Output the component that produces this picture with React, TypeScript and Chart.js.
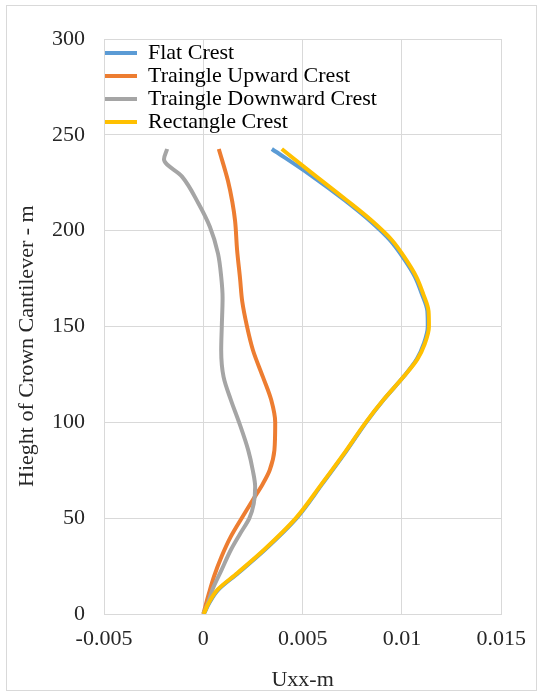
import React, { useEffect, useRef } from 'react';
import { Chart, registerables } from 'chart.js';

Chart.register(...registerables);

const seriesNames = ['Flat Crest', 'Traingle Upward Crest', 'Traingle Downward Crest', 'Rectangle Crest'];
const seriesColors = ['#5B9BD5', '#ED7D31', '#A5A5A5', '#FFC000'];

const flatHeights = [0, 5.7, 12.7, 21.4, 33.5, 50, 68, 85, 100, 112, 124, 133, 141, 150, 158, 167, 176, 185, 195, 205, 216, 229, 242.6];
const flatUxx = [0.00003, 0.0003, 0.00076, 0.00176, 0.0031, 0.0047, 0.006, 0.0072, 0.0082, 0.0091, 0.0101, 0.01075, 0.0111, 0.0113, 0.01128, 0.011, 0.01065, 0.01012, 0.0094, 0.0084, 0.0071, 0.0054, 0.00345];

const rectHeights = [0, 5.7, 12.7, 21.4, 33.5, 50, 68, 85, 100, 112, 124, 133, 141, 150, 158, 167, 176, 185, 195, 205, 216, 229, 242.6];
const rectUxx = [0.00002, 0.00027, 0.00072, 0.00172, 0.00306, 0.00466, 0.00597, 0.00717, 0.00818, 0.00909, 0.0101, 0.01078, 0.01115, 0.01136, 0.01134, 0.01107, 0.01072, 0.0102, 0.0095, 0.0085, 0.0072, 0.0056, 0.00395];

const upHeights = [0, 11, 19.6, 30, 40.5, 50, 59.5, 68, 75, 85.5, 100, 111.6, 123.7, 137.6, 150, 163, 175, 190, 205, 215, 226, 242.6];
const upUxx = [0, 0.00029, 0.00054, 0.00092, 0.00139, 0.00193, 0.00249, 0.003, 0.00334, 0.00358, 0.00362, 0.00342, 0.003, 0.0025, 0.0022, 0.00196, 0.00185, 0.0017, 0.0016, 0.00146, 0.00124, 0.00078];

const downHeights = [0, 5.7, 12.7, 23, 33.5, 42, 50, 57.6, 66.3, 75, 85.5, 100, 111.6, 123.7, 137.6, 150, 165, 176, 188, 202, 214.3, 228.2, 237.2, 242.6];
const downUxx = [0, 0.00024, 0.00046, 0.00092, 0.00139, 0.00186, 0.00232, 0.00254, 0.00261, 0.00249, 0.00226, 0.0018, 0.00139, 0.00102, 0.0009, 0.00093, 0.00097, 0.0009, 0.00074, 0.00033, -0.00025, -0.00107, -0.00198, -0.00182];

const xMin = -0.005;
const xMax = 0.015;
const xStep = 0.005;
const yMin = 0;
const yMax = 300;
const yStep = 50;

const xTitle = 'Uxx-m';
const yTitle = 'Hieght of Crown Cantilever - m';

const FONT_FAMILY = '"Liberation Serif", "Times New Roman", serif';
const TEXT_COLOR = '#262626';
const GRID_COLOR = '#d9d9d9';

const toPoints = (hs: number[], xs: number[]) => hs.map((h, i) => ({ x: xs[i], y: h }));

const yTitlePlugin = {
  id: 'yTitlePlugin',
  afterDraw(chart: any) {
    const { ctx, chartArea } = chart;
    ctx.save();
    ctx.font = `22px ${FONT_FAMILY}`;
    ctx.fillStyle = TEXT_COLOR;
    ctx.translate(33, chartArea.bottom - 127);
    ctx.rotate(-Math.PI / 2);
    ctx.textAlign = 'left';
    ctx.textBaseline = 'alphabetic';
    ctx.fillText(yTitle, 0, 0);
    ctx.restore();
  },
};

// keep the in-plot legend aligned with the top of the plot area
const legendPlacePlugin = {
  id: 'legendPlacePlugin',
  afterLayout(chart: any) {
    const lg = chart.legend;
    if (!lg) return;
    const h = lg.height;
    lg.top = chart.chartArea.top + 2;
    lg.bottom = lg.top + h;
  },
};

export default function App() {
  const canvasRef = useRef<HTMLCanvasElement | null>(null);

  useEffect(() => {
    if (!canvasRef.current) return;
    Chart.defaults.font.family = FONT_FAMILY;
    const seriesData = [
      toPoints(flatHeights, flatUxx),
      toPoints(upHeights, upUxx),
      toPoints(downHeights, downUxx),
      toPoints(rectHeights, rectUxx),
    ];
    const orders = [4, 3, 2, 1];
    const datasets = seriesNames.map((name, i) => ({
      label: name,
      data: seriesData[i],
      borderColor: seriesColors[i],
      backgroundColor: seriesColors[i],
      pointBorderColor: seriesColors[i],
      pointBackgroundColor: seriesColors[i],
      borderWidth: 4,
      pointBorderWidth: 4,
      pointRadius: 0,
      pointHoverRadius: 0,
      cubicInterpolationMode: 'monotone',
      fill: false,
      order: orders[i],
    }));

    const fmt = (v: any) => {
      const n = Math.round(Number(v) * 1e6) / 1e6;
      return String(n);
    };

    const chart = new Chart(canvasRef.current, {
      type: 'line',
      data: { datasets },
      plugins: [yTitlePlugin, legendPlacePlugin],
      options: {
        indexAxis: 'y',
        animation: false,
        responsive: true,
        maintainAspectRatio: false,
        layout: { padding: { top: 39, right: 29, bottom: 0, left: 0 } },
        plugins: {
          tooltip: { enabled: false },
          legend: {
            position: 'chartArea',
            align: 'start',
            labels: {
              usePointStyle: true,
              pointStyle: 'line',
              pointStyleWidth: 32,
              padding: 1,
              color: '#000',
              font: { size: 22, family: FONT_FAMILY },
              sort: (a: any, b: any) => a.datasetIndex - b.datasetIndex,
            },
          },
        },
        scales: {
          x: {
            type: 'linear',
            position: 'bottom',
            min: xMin,
            max: xMax,
            ticks: {
              stepSize: xStep,
              padding: 12,
              color: TEXT_COLOR,
              font: { size: 22, family: FONT_FAMILY },
              callback: (v: any) => fmt(v),
              maxRotation: 0,
            },
            grid: { color: GRID_COLOR, lineWidth: 1, drawTicks: false },
            border: { color: GRID_COLOR },
            title: {
              display: true,
              text: xTitle,
              color: TEXT_COLOR,
              font: { size: 22, family: FONT_FAMILY },
              padding: 0,
            },
            afterFit: (s: any) => {
              s.height = 79;
            },
          },
          y: {
            type: 'linear',
            position: 'left',
            min: yMin,
            max: yMax,
            ticks: {
              stepSize: yStep,
              padding: 19,
              color: TEXT_COLOR,
              font: { size: 22, family: FONT_FAMILY },
              callback: (v: any) => fmt(v),
            },
            grid: { color: GRID_COLOR, lineWidth: 1, drawTicks: false },
            border: { color: GRID_COLOR },
            afterFit: (s: any) => {
              s.width = 104;
            },
          },
        },
      } as any,
    });
    return () => chart.destroy();
  }, []);

  return (
    <div style={{ position: 'absolute', left: 0, top: 0, width: 538, height: 693, overflow: 'hidden', background: '#fff' }}>
      <div
        style={{
          position: 'absolute',
          left: 6,
          top: 5,
          width: 531,
          height: 686,
          boxSizing: 'border-box',
          border: '1px solid #d9d9d9',
        }}
      />
      <div style={{ position: 'absolute', left: 0, top: 0, width: 538, height: 693 }}>
        <canvas ref={canvasRef} />
      </div>
    </div>
  );
}
